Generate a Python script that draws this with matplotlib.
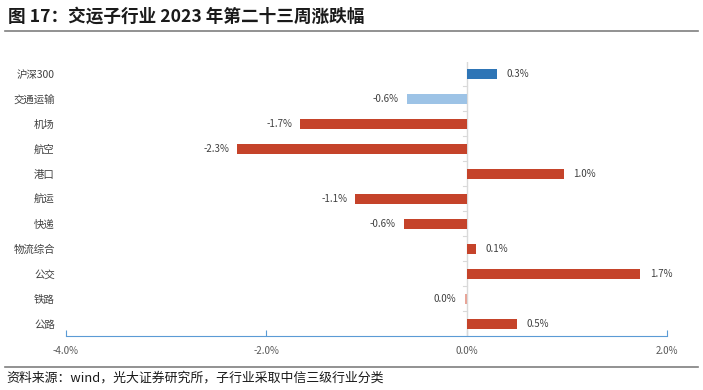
import numpy as np
import matplotlib
matplotlib.use("Agg")
import matplotlib.pyplot as plt

plt.rcParams['font.family'] = ['Noto Sans CJK SC', 'DejaVu Sans']

# data
categories = ["沪深300", "交通运输", "机场", "航空", "港口", "航运", "快递", "物流综合", "公交", "铁路", "公路"]
values = [0.3, -0.6, -1.66, -2.29, 0.97, -1.11, -0.63, 0.09, 1.73, -0.02, 0.5]
labels = ["0.3%", "-0.6%", "-1.7%", "-2.3%", "1.0%", "-1.1%", "-0.6%", "0.1%", "1.7%", "0.0%", "0.5%"]
xticks = [-4.0, -2.0, 0.0, 2.0]
xticklabels = ["-4.0%", "-2.0%", "0.0%", "2.0%"]

red = "#C5432A"
colors = ["#2E75B6", "#9DC3E6"] + [red] * (len(categories) - 2)
colors[9] = "#E8A598"

fig = plt.figure(figsize=(7.03, 3.90), dpi=100)
ax = fig.add_axes([66 / 703, 1 - 336 / 390, (667 - 66) / 703, (336 - 61.5) / 390])

y = np.arange(len(categories))
ax.barh(y, values, height=0.4, color=colors, zorder=3)
ax.set_ylim(len(categories) - 0.5, -0.5)
ax.set_xlim(-4, 2)

for yi, v, lab in zip(y, values, labels):
    if v >= 0:
        ax.annotate(lab, (v, yi), xytext=(7, 0), textcoords="offset points",
                    ha="left", va="center", fontsize=7, color="#404040")
    else:
        ax.annotate(lab, (v, yi), xytext=(-6, 0), textcoords="offset points",
                    ha="right", va="center", fontsize=7, color="#404040")

# zero line with small category ticks
ax.axvline(0, color="#D9D9D9", lw=1, zorder=2)
for b in np.arange(-0.5, len(categories), 1.0)[1:-1]:
    ax.plot([-0.04, 0], [b, b], color="#D9D9D9", lw=0.8, zorder=2)

ax.set_yticks(y)
ax.set_yticklabels(categories, fontsize=7.5, color="#404040")
ax.tick_params(axis="y", length=0, pad=8)

ax.set_xticks(xticks)
ax.set_xticklabels(xticklabels, fontsize=7, color="#595959")
ax.tick_params(axis="x", direction="in", length=4, color="#5B9BD5", pad=7)
for s in ["top", "right", "left"]:
    ax.spines[s].set_visible(False)
ax.spines["bottom"].set_color("#5B9BD5")

# title and source
fig.text(8 / 703, 1 - 17 / 390, "图 17：交运子行业 2023 年第二十三周涨跌幅",
         fontsize=12.7, fontweight="bold", ha="left", va="center", color="#1a1a1a")
fig.add_artist(plt.Line2D([5 / 703, 698 / 703], [1 - 31 / 390] * 2, color="#7F7F7F", lw=1.2))
fig.add_artist(plt.Line2D([5 / 703, 698 / 703], [1 - 367 / 390] * 2, color="#7F7F7F", lw=1.2))
fig.text(6 / 703, 1 - 378 / 390, "资料来源：wind，光大证券研究所，子行业采取中信三级行业分类",
         fontsize=9.3, ha="left", va="center", color="#1a1a1a")

fig.savefig("out.png", dpi=100)
